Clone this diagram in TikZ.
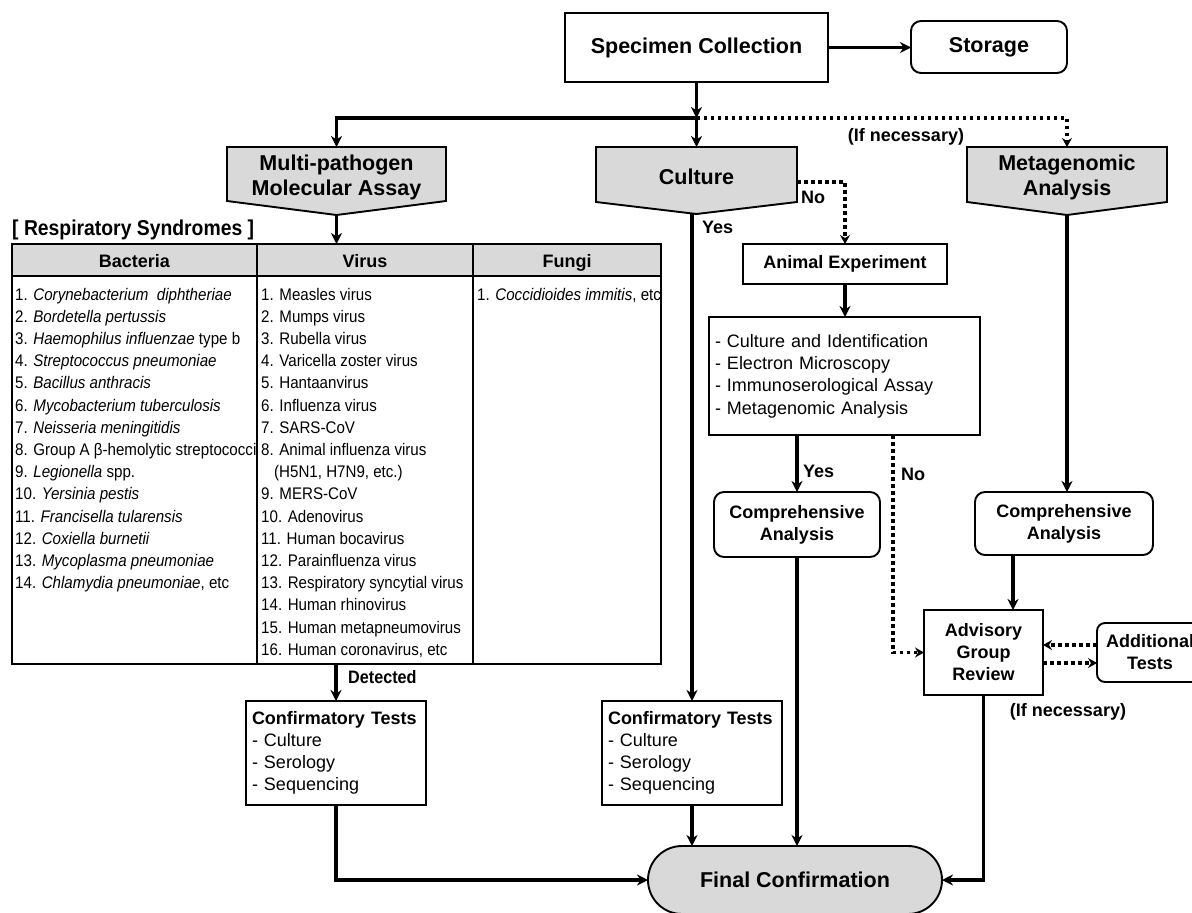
\documentclass[tikz,border=0pt]{standalone}
\usepackage{fontspec}
\setmainfont{Liberation Sans}
\newfontfamily\narrowfont{Liberation Sans}[FakeStretch=0.9]
\usetikzlibrary{arrows.meta}
\definecolor{boxgray}{HTML}{D9D9D9}
\begin{document}
\begin{tikzpicture}[x=1pt,y=-1pt,
  arr/.style={line width=3.6pt,-{Stealth[length=11pt,width=11pt,inset=3.5pt]}},
  dotarr/.style={line width=3.6pt,dash pattern=on 3.6pt off 3.4pt,-{Stealth[length=9pt,width=10pt,inset=3pt]}},
  box/.style={draw,line width=1.9pt,fill=white,inner sep=0pt,outer sep=0pt,align=center},
  rbox/.style={box,rounded corners=10pt},
  penta/.style={draw,line width=1.9pt,fill=boxgray},
  bigtxt/.style={font=\fontsize{21.5}{25}\selectfont\bfseries,align=center,inner sep=0pt},
  midtxt/.style={font=\fontsize{18}{22}\selectfont\bfseries,align=center},
  lbl/.style={font=\fontsize{18}{22}\selectfont\bfseries,inner sep=0pt},
  tabtxt/.style={font=\narrowfont\fontsize{16.8}{18}\selectfont,inner sep=0pt,anchor=base west},
  headtxt/.style={font=\fontsize{18}{22}\selectfont\bfseries,inner sep=0pt,anchor=base},
]
\useasboundingbox (0,0) rectangle (1192,913);
\clip (0,0) rectangle (1192,913);

% ---------- top ----------
\node[box,line width=2pt,bigtxt,minimum width=263pt,minimum height=69pt] (spec) at (696.5,47.5) {Specimen Collection};
\node[rbox,bigtxt,minimum width=156pt,minimum height=52pt] (stor) at (989,47) {Storage};
\draw[arr] (spec.east) -- (spec.east -| stor.west);

% pentagon boxes
\draw[penta] (227,147) -- (446,147) -- (446,201) -- (336.5,215) -- (227,201) -- cycle;
\coordinate (mptop) at (336.5,147);
\coordinate (mptip) at (336.5,215);
\node[bigtxt] (mp) at (336.5,177) {Multi-pathogen\\Molecular Assay};

\draw[penta] (596,147) -- (797,147) -- (797,202) -- (696.5,214) -- (596,202) -- cycle;
\coordinate (cutop) at (696.5,147);
\coordinate (cuout) at (692,213);
\coordinate (curight) at (797,182);
\node[bigtxt] (cu) at (696.5,177) {Culture};

\draw[penta] (967,147) -- (1167,147) -- (1167,202) -- (1067,215) -- (967,202) -- cycle;
\coordinate (mgtop) at (1067,147);
\coordinate (mgtip) at (1067,215);
\node[bigtxt] (mg) at (1067,177) {Metagenomic\\Analysis};

\coordinate (j) at (696.5,118);
\draw[arr] (spec.south) -- (j);
\draw[arr] (j) -| (mptop);
\draw[arr] (j) -- (cutop);
\draw[dotarr] (j) -| (mgtop);
\node[lbl] (ifn1) at (906,137) {(If necessary)};

% ---------- culture branch ----------
\node[box,midtxt,minimum width=204pt,minimum height=40pt] (animal) at (845,264) {Animal Experiment};
\draw[dotarr] (curight) -| (animal.north);
\node[lbl,anchor=west] (no1) at (801,197) {No};
\node[lbl,anchor=west] (yes1) at (702,227) {Yes};

\node[box,minimum width=271pt,minimum height=118pt,text width=259pt,align=left,
  font=\fontsize{18}{22.3}\selectfont] (list) at (844.5,376)
  {- Culture and Identification\\- Electron Microscopy\\- Immunoserological Assay\\- Metagenomic Analysis};
\draw[arr] (animal.south) -- (animal.south |- list.north);

\node[rbox,midtxt,minimum width=166pt,minimum height=65pt] (comp1) at (797,524.5) {Comprehensive\\Analysis};
\draw[arr] (comp1.north |- list.south) -- (comp1.north);
\node[lbl,anchor=west] (yes2) at (803,471) {Yes};

\node[box,line width=2.8pt,midtxt,minimum width=119pt,minimum height=85pt] (adv) at (983.5,652.5) {Advisory\\Group\\Review};
\coordinate (listno) at (893,435);
\draw[dotarr] (listno) |- (adv.west);
\node[lbl,anchor=west] (no2) at (901,474) {No};

% ---------- metagenomic branch ----------
\node[rbox,midtxt,minimum width=178pt,minimum height=63pt] (comp2) at (1064,523.5) {Comprehensive\\Analysis};
\draw[arr] (mgtip) -- (mgtip |- comp2.north);
\coordinate (c2out) at (1013,555);
\draw[arr] (c2out) -- (c2out |- adv.north);

\node[rbox,rounded corners=8pt,midtxt,minimum width=106pt,minimum height=59pt] (addt) at (1150,652.5) {Additional\\Tests};
\draw[dotarr] ([yshift=7.5pt]addt.west) -- ([yshift=7.5pt]adv.east);
\draw[dotarr] ([yshift=-10.5pt]adv.east) -- ([yshift=-10.5pt]addt.west);
\node[lbl] (ifn2) at (1068,712) {(If necessary)};

% ---------- table ----------
\node[font=\narrowfont\fontsize{21.5}{22}\selectfont\bfseries,inner sep=0pt,anchor=west] (rs) at (12,230) {[ Respiratory Syndromes ]};
\draw[arr] (mptip) -- (336.5,244);
\fill[boxgray] (12,244) rectangle (661,276);
\draw[line width=1.9pt] (12,244) rectangle (661,664);
\draw[line width=1.9pt] (12,276) -- (661,276);
\draw[line width=1.9pt] (257,244) -- (257,664);
\draw[line width=1.9pt] (473,244) -- (473,664);
\node[headtxt] (hb) at (134.5,267.5) {Bacteria};
\node[headtxt] (hv) at (365,267.5) {Virus};
\node[headtxt] (hf) at (567,267.5) {Fungi};

\foreach \t [count=\i] in {
  {1. \textit{Corynebacterium}\enspace\textit{diphtheriae}},
  {2. \textit{Bordetella pertussis}},
  {3. \textit{Haemophilus influenzae} type b},
  {4. \textit{Streptococcus pneumoniae}},
  {5. \textit{Bacillus anthracis}},
  {6. \textit{Mycobacterium tuberculosis}},
  {7. \textit{Neisseria meningitidis}},
  {8. Group A β-hemolytic streptococci},
  {9. \textit{Legionella} spp.},
  {10. \textit{Yersinia pestis}},
  {11. \textit{Francisella tularensis}},
  {12. \textit{Coxiella burnetii}},
  {13. \textit{Mycoplasma pneumoniae}},
  {14. \textit{Chlamydia pneumoniae}, etc}}
  \node[tabtxt] (bac\i) at (15,{300+22.2*(\i-1)}) {\t};

\foreach \t [count=\i] in {
  {1. Measles virus},
  {2. Mumps virus},
  {3. Rubella virus},
  {4. Varicella zoster virus},
  {5. Hantaanvirus},
  {6. Influenza virus},
  {7. SARS-CoV},
  {8. Animal influenza virus},
  {\hspace*{13pt}(H5N1, H7N9, etc.)},
  {9. MERS-CoV},
  {10. Adenovirus},
  {11. Human bocavirus},
  {12. Parainfluenza virus},
  {13. Respiratory syncytial virus},
  {14. Human rhinovirus},
  {15. Human metapneumovirus},
  {16. Human coronavirus, etc}}
  \node[tabtxt] (vir\i) at (261,{300+22.2*(\i-1)}) {\t};

\node[tabtxt] (fun1) at (477,300) {1. \textit{Coccidioides immitis}, etc};

% ---------- bottom ----------
\node[box,minimum width=180pt,minimum height=104pt,text width=168pt,align=left,
  font=\fontsize{18}{22}\selectfont] (conf1) at (336,753)
  {\textbf{Confirmatory Tests}\\- Culture\\- Serology\\- Sequencing};
\node[box,minimum width=180pt,minimum height=104pt,text width=168pt,align=left,
  font=\fontsize{18}{22}\selectfont] (conf2) at (692,753)
  {\textbf{Confirmatory Tests}\\- Culture\\- Serology\\- Sequencing};
\coordinate (tabbot) at (336,664);
\draw[arr] (tabbot) -- (conf1.north);
\node[font=\narrowfont\fontsize{18}{22}\selectfont\bfseries,inner sep=0pt,anchor=west] (det) at (348,677) {Detected};
\draw[arr] (cuout) -- (cuout |- conf2.north);

\node[box,fill=boxgray,rounded corners=34pt,bigtxt,minimum width=294pt,minimum height=68pt] (final) at (795,880) {Final Confirmation};
\draw[arr] (conf1.south) |- (final.west);
\draw[arr] (conf2.south) -- (conf2.south |- final.north);
\draw[arr] (comp1.south) -- (comp1.south |- final.north);
\draw[arr] (adv.south) |- (final.east);
\end{tikzpicture}
\end{document}
